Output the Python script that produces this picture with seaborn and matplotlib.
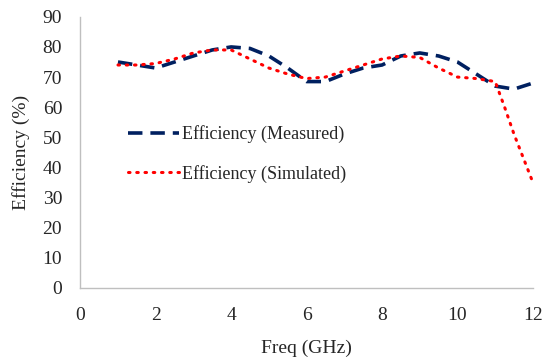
import matplotlib
matplotlib.use("Agg")
import matplotlib.pyplot as plt
import seaborn as sns
import pandas as pd

# values
freq_meas = [1, 1.5, 2, 2.5, 3, 3.5, 4, 4.5, 5, 5.5, 6, 6.5, 7, 7.5, 8, 8.5, 9, 9.5, 10, 10.5, 11, 11.5, 12]
eff_meas = [75, 74, 73, 75, 77, 79, 80, 79.5, 77, 73, 68.5, 68.5, 71, 73, 74, 77, 78, 77, 75, 71, 67, 66, 68]

freq_sim = [1, 1.5, 2, 2.5, 3, 3.5, 4, 4.5, 5, 5.5, 6, 6.5, 7, 7.5, 8, 8.5, 9, 9.5, 10, 10.5, 11, 11.25, 11.5, 11.75, 12]
eff_sim = [74, 74, 74.5, 76, 78, 79, 79, 76, 73, 71, 69.5, 70, 72, 74, 76, 77, 76.5, 73, 70, 69.5, 68.5, 60, 51, 43, 35]

x_ticks = [0, 2, 4, 6, 8, 10, 12]
y_ticks = [0, 10, 20, 30, 40, 50, 60, 70, 80, 90]

sns.set_style("white")
plt.rcParams["font.family"] = ["Liberation Serif", "DejaVu Serif"]

df_meas = pd.DataFrame({"Freq": freq_meas, "Eff": eff_meas})
df_sim = pd.DataFrame({"Freq": freq_sim, "Eff": eff_sim})

fig, ax = plt.subplots(figsize=(5.46, 3.58), dpi=100)
fig.subplots_adjust(left=0.147, right=0.976, top=0.953, bottom=0.196)

sns.lineplot(data=df_meas, x="Freq", y="Eff", ax=ax, color="#002060",
             linewidth=2.6, linestyle=(0, (4, 2.2)), label="Efficiency (Measured)")
sns.lineplot(data=df_sim, x="Freq", y="Eff", ax=ax, color="#FF0000",
             linewidth=2.2, linestyle=(0, (0.5, 2.2)), dash_capstyle="round",
             label="Efficiency (Simulated)")

ax.set_xlim(0, 12)
ax.set_ylim(0, 90)
ax.set_xticks(x_ticks)
ax.set_yticks(y_ticks)
ax.tick_params(axis="x", length=0, labelsize=14, pad=14)
ax.tick_params(axis="y", length=0, labelsize=14, pad=13)
ax.set_xlabel("Freq (GHz)", fontsize=14)
ax.set_ylabel("Efficiency (%)", fontsize=14)
ax.xaxis.set_label_coords(0.5, -0.19)
ax.yaxis.set_label_coords(-0.112, 0.5)

for side in ["top", "right"]:
    ax.spines[side].set_visible(False)
for side in ["left", "bottom"]:
    ax.spines[side].set_color("#BFBFBF")
    ax.spines[side].set_linewidth(1.0)

ax.legend(loc="upper left", bbox_to_anchor=(0.07, 0.66), frameon=False,
          fontsize=13, handlelength=2.8, handletextpad=0.2, labelspacing=1.2)

fig.savefig("out.png", dpi=100)
